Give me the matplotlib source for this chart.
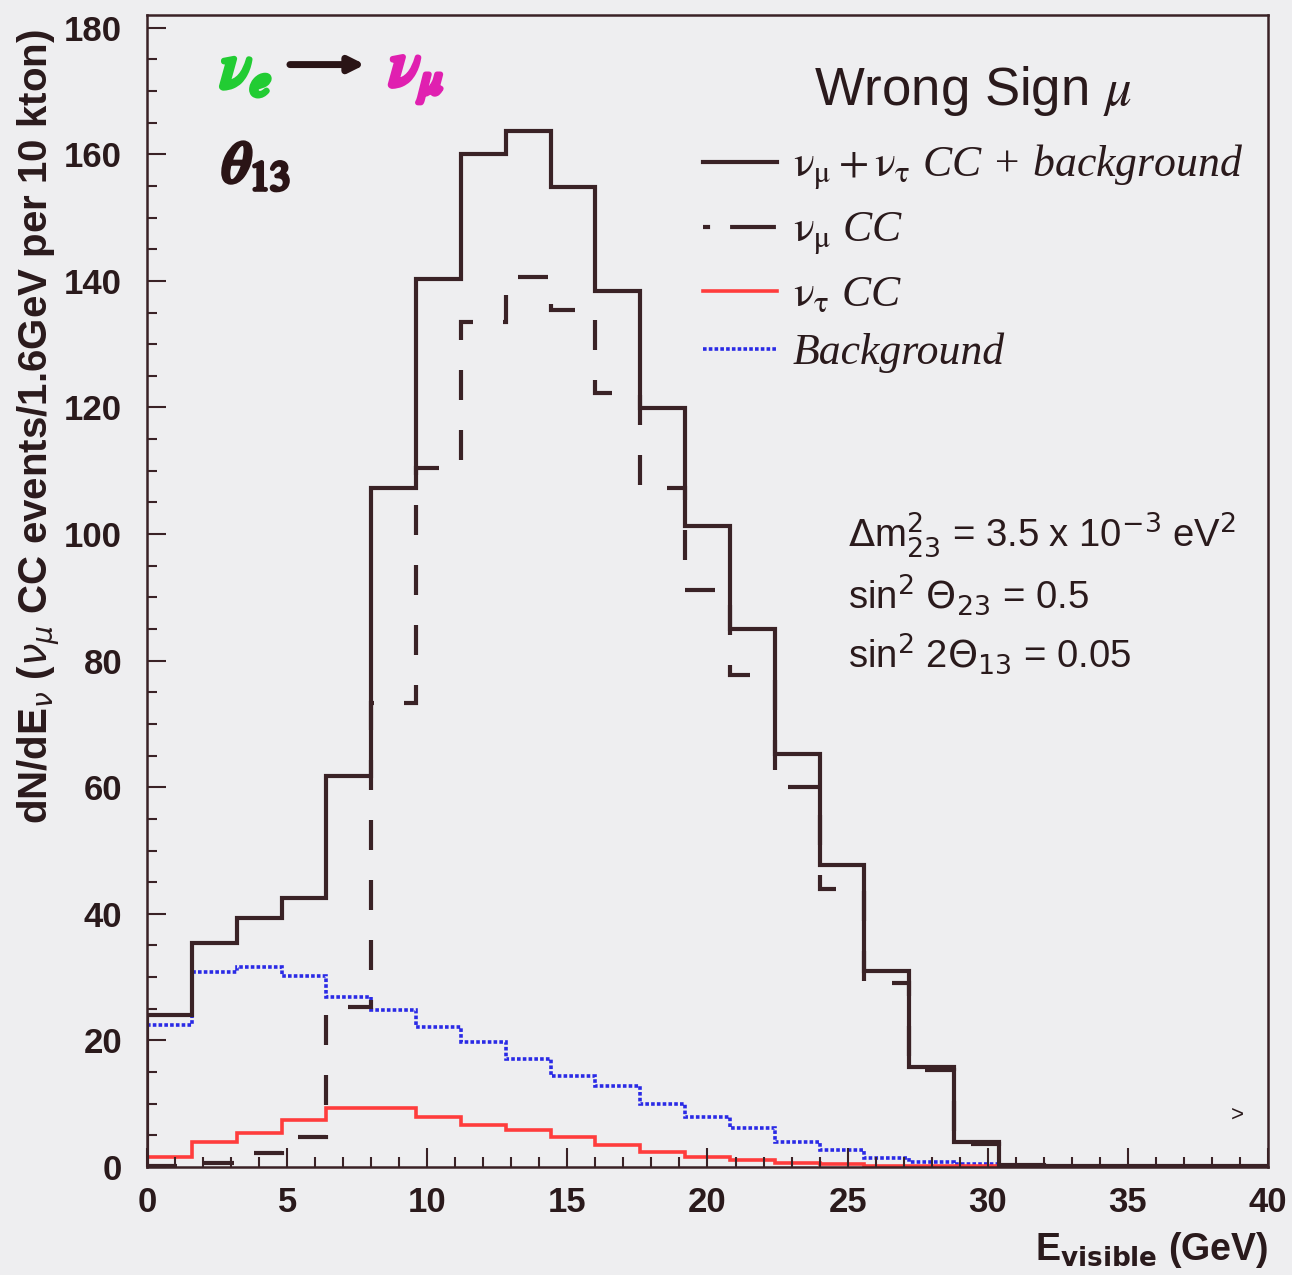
import numpy as np
import matplotlib
matplotlib.use('Agg')
import matplotlib.pyplot as plt
import matplotlib.patheffects as pe
from matplotlib.ticker import MultipleLocator
from matplotlib.lines import Line2D

plt.rcParams['font.family'] = ['Liberation Sans', 'DejaVu Sans']
plt.rcParams['mathtext.fontset'] = 'stix'

# bin edges: 25 bins of 1.6 GeV from 0 to 40
edges = np.linspace(0, 40, 26)

total = [24.0, 35.4, 39.3, 42.5, 61.8, 107.3, 140.3, 160.1, 163.7, 154.9,
         138.4, 119.9, 101.3, 85.0, 65.2, 47.7, 31.0, 15.8, 4.0, 0.3,
         0.2, 0.1, 0.1, 0.1, 0.1]
numu_cc = [0.2, 0.6, 2.2, 4.8, 25.3, 73.3, 110.5, 133.5, 140.6, 135.4,
           122.3, 107.2, 91.2, 77.7, 60.0, 44.0, 29.0, 15.3, 3.6, 0.2,
           0.0, 0.0, 0.0, 0.0, 0.0]
nutau_cc = [1.6, 4.0, 5.4, 7.4, 9.3, 9.3, 7.9, 6.6, 5.8, 4.7,
            3.5, 2.4, 1.6, 1.1, 0.7, 0.4, 0.2, 0.1, 0.1, 0.0,
            0.0, 0.0, 0.0, 0.0, 0.0]
background = [22.4, 30.8, 31.6, 30.2, 26.9, 24.8, 22.1, 19.8, 17.1, 14.4,
              12.8, 9.9, 7.9, 6.1, 4.0, 2.7, 1.4, 0.8, 0.4, 0.3,
              0.2, 0.2, 0.1, 0.1, 0.1]

labels = [r'$\mathrm{\nu_\mu + \nu_\tau}$ CC + background',
          r'$\mathrm{\nu_\mu}$ CC',
          r'$\mathrm{\nu_\tau}$ CC',
          'Background']

bg = '#eeeef0'
dark = '#3a2226'
txt = '#2a1a1c'
red = '#ff3c3c'
blue = '#2a2ae6'

fig = plt.figure(figsize=(12.92, 12.75), dpi=100, facecolor=bg)
ax = fig.add_axes([0.1138, 0.0847, 0.8676, 0.9035], facecolor=bg)

ax.stairs(background, edges, color=blue, lw=2.6, ls=(0, (1, 0.6)), baseline=None)
ax.stairs(nutau_cc, edges, color=red, lw=2.6, baseline=None)
ax.stairs(numu_cc, edges, color=dark, lw=3, ls=(0, (7.2, 7.2)), baseline=None)
ax.stairs(total, edges, color=dark, lw=3, baseline=0)

ax.set_xlim(0, 40)
ax.set_ylim(0, 182)
ax.xaxis.set_major_locator(MultipleLocator(5))
ax.xaxis.set_minor_locator(MultipleLocator(1))
ax.yaxis.set_major_locator(MultipleLocator(20))
ax.yaxis.set_minor_locator(MultipleLocator(5))
ax.tick_params(which='both', direction='in', color=dark, width=1.5)
ax.tick_params(which='major', length=14, labelsize=25, pad=14)
ax.tick_params(which='minor', length=7)
ax.tick_params(axis='y', which='major', pad=18)
for lab in ax.get_xticklabels() + ax.get_yticklabels():
    lab.set_fontweight('bold')
    lab.set_color(txt)
for s in ax.spines.values():
    s.set_color(dark)
    s.set_linewidth(1.8)

ax.set_ylabel(r'dN/dE$_\nu$ ($\nu_\mu$ CC events/1.6GeV per 10 kton)',
              fontsize=29, fontweight='bold', loc='top', color=txt,
              math_fontfamily='dejavusans')
ax.yaxis.set_label_coords(-0.076, 0.988)
ax.set_xlabel(r'E$_{\mathbf{visible}}$ (GeV)', fontsize=27, fontweight='bold',
              loc='right', color=txt, math_fontfamily='dejavusans')
ax.xaxis.set_label_coords(1.0, -0.055)

# legend
handles = [Line2D([], [], color=dark, lw=3),
           Line2D([], [], color=dark, lw=3, ls=(0, (1.7, 4.8, 11, 2))),
           Line2D([], [], color=red, lw=2.6),
           Line2D([], [], color=blue, lw=2.6, ls=(0, (1, 0.6)))]
leg = ax.legend(handles, labels, loc='upper right', bbox_to_anchor=(1.013, 0.992),
                frameon=False, prop={'family': 'Liberation Serif', 'style': 'italic', 'size': 31.5},
                handlelength=1.7, handletextpad=0.35, labelspacing=0.41,
                title=r'Wrong Sign $\mu$',
                title_fontproperties={'family': 'Liberation Sans', 'size': 38})
leg.get_title().set_color(txt)
leg._legend_box.sep = 18
for t in leg.get_texts():
    t.set_color(txt)

# oscillation parameters
params = [r'$\Delta$m$^2_{23}$ = 3.5 x 10$^{-3}$ eV$^2$',
          r'sin$^2$ $\Theta_{23}$ = 0.5',
          r'sin$^2$ 2$\Theta_{13}$ = 0.05']
for i, s in enumerate(params):
    ax.text(25.0, 99.9 - 9.4 * i, s, fontsize=27.5, color=txt, va='center',
            math_fontfamily='dejavusans')

# overflow marker
ax.text(38.9, 8.2, '>', fontsize=16, color=txt, ha='center', va='center')

# hand-written notes
ax.text(0.088, 0.952, r'$\nu_e$', transform=ax.transAxes, fontsize=46, color='#22cc33',
        ha='center', va='center',
        path_effects=[pe.withStroke(linewidth=4, foreground='#22cc33')])
ax.annotate('', xy=(0.197, 0.957), xytext=(0.125, 0.957), xycoords='axes fraction',
            arrowprops=dict(arrowstyle='-|>,head_length=0.9,head_width=0.45',
                            color='#2a1416', lw=5))
ax.text(0.24, 0.948, r'$\nu_\mu$', transform=ax.transAxes, fontsize=46, color='#e020b0',
        ha='center', va='center',
        path_effects=[pe.withStroke(linewidth=4, foreground='#e020b0')])
ax.text(0.097, 0.868, r'$\theta_{13}$', transform=ax.transAxes, fontsize=42, color='#2a1416',
        ha='center', va='center',
        path_effects=[pe.withStroke(linewidth=3, foreground='#2a1416')])

fig.savefig('out.png', dpi=100, facecolor=bg)
